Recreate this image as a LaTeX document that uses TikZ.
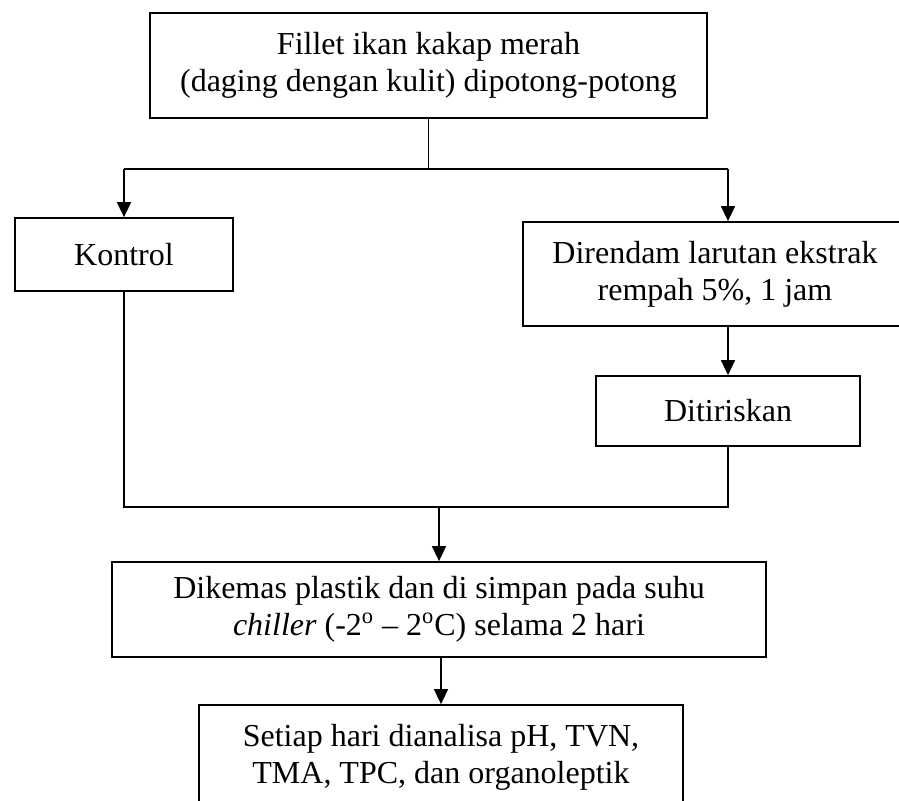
\documentclass[tikz,border=0pt]{standalone}
\usepackage{fontspec}
\setmainfont{Liberation Serif}
\usetikzlibrary{arrows.meta}
\begin{document}
\begin{tikzpicture}[x=0.5pt,y=-0.5pt,
  box/.style={draw, line width=0.9pt, inner sep=0pt, align=center, font=\fontsize{16}{18.5}\selectfont},
  conn/.style={line width=0.8pt},
  arr/.style={conn, -{Triangle[length=7.5pt,width=7pt]}}]
\useasboundingbox (0,0) rectangle (899,800);
\node[box, minimum width=278.5pt, minimum height=52.5pt] (top) at (428.5,65.5)
  {Fillet ikan kakap merah\\(daging dengan kulit) dipotong-potong};
\node[box, minimum width=109pt, minimum height=36.5pt] (kontrol) at (124,254.5) {Kontrol};
\node[box, minimum width=192pt, minimum height=52pt] (direndam) at (715,274)
  {Direndam larutan ekstrak\\rempah 5\%, 1 jam};
\node[box, minimum width=132pt, minimum height=35pt] (dit) at (728,411) {Ditiriskan};
\node[box, minimum width=327pt, minimum height=47.5pt] (dikemas) at (439,609.5)
  {Dikemas plastik dan di simpan pada suhu\\\textit{chiller} (-2\textsuperscript{o} – 2\textsuperscript{o}C) selama 2 hari};
\node[box, minimum width=242pt, minimum height=52pt] (setiap) at (441,757)
  {Setiap hari dianalisa pH, TVN,\\TMA, TPC, dan organoleptik};
% split
\coordinate (split) at (428.5,169);
\coordinate (splitL) at (124,169);
\coordinate (splitR) at (728,169);
\draw[conn] (top.south) -- (split);
\draw[conn] (splitL) -- (splitR);
\draw[arr] (splitL) -- (kontrol.north);
\draw[arr] (splitR) -- (splitR |- direndam.north);
\draw[arr] (dit.north |- direndam.south) -- (dit.north);
% merge
\coordinate (m) at (440,507);
\draw[conn] (kontrol.south) |- (dit.south |- m) -- (dit.south);
\draw[arr] (dikemas.north |- m) -- (dikemas.north);
\draw[arr] (setiap.north |- dikemas.south) -- (setiap.north);
\end{tikzpicture}
\end{document}
